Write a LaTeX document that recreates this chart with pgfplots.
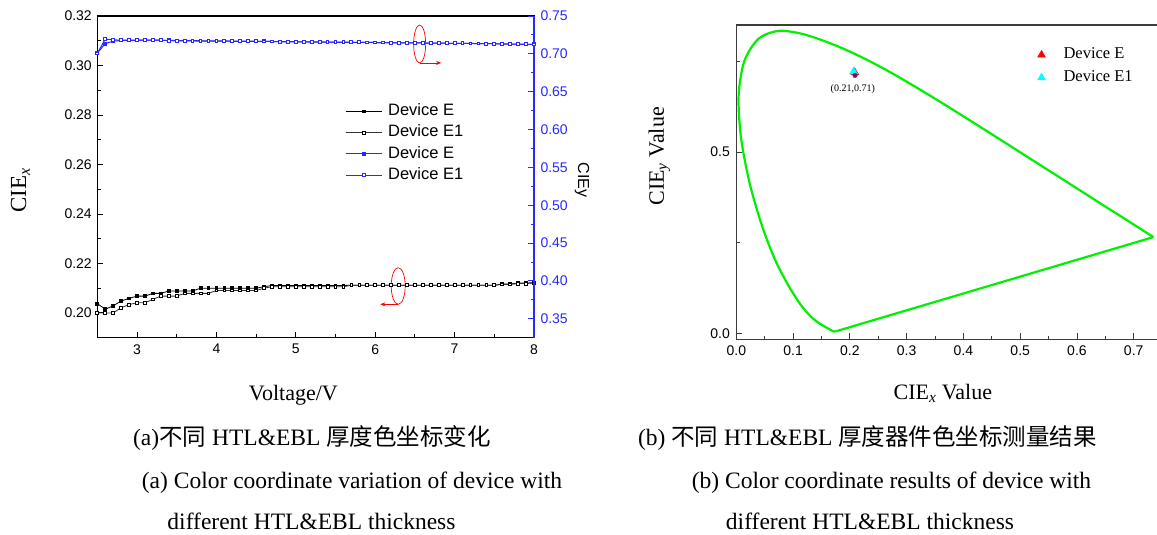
\documentclass[border=0pt]{standalone}
\usepackage{pgfplots}
\pgfplotsset{compat=1.18}
\usepackage{pgfplotstable}
\usepackage{fontspec}
\setmainfont{Liberation Serif}
\setsansfont{Liberation Sans}
\newfontfamily\cjk{Noto Sans CJK SC}
\usetikzlibrary{arrows.meta}
\definecolor{myblue}{RGB}{40,40,255}
\definecolor{axgray}{RGB}{60,60,60}
\definecolor{locusgreen}{RGB}{0,240,0}
\definecolor{mycyan}{RGB}{0,255,255}
\definecolor{myred}{RGB}{255,0,0}
\definecolor{mypurple}{RGB}{120,20,110}

\pgfplotstableread{
V xE xE1 yE yE1
2.5 0.2038 0.2000 0.7010 0.7005
2.6 0.2015 0.2000 0.7135 0.7195
2.7 0.2029 0.2000 0.7168 0.7185
2.8 0.2048 0.2021 0.7175 0.7180
2.9 0.2059 0.2034 0.7178 0.7180
3.0 0.2068 0.2041 0.7180 0.7181
3.1 0.2068 0.2041 0.7180 0.7181
3.2 0.2079 0.2055 0.7180 0.7181
3.3 0.2079 0.2068 0.7180 0.7180
3.4 0.2089 0.2068 0.7178 0.7174
3.5 0.2089 0.2068 0.7176 0.7172
3.6 0.2089 0.2079 0.7175 0.7170
3.7 0.2089 0.2079 0.7174 0.7170
3.8 0.2100 0.2079 0.7173 0.7169
3.9 0.2100 0.2079 0.7172 0.7168
4.0 0.2100 0.2091 0.7171 0.7168
4.1 0.2100 0.2091 0.7170 0.7167
4.2 0.2100 0.2091 0.7169 0.7166
4.3 0.2100 0.2091 0.7168 0.7166
4.4 0.2100 0.2091 0.7167 0.7165
4.5 0.2100 0.2091 0.7166 0.7165
4.6 0.2106 0.2100 0.7165 0.7164
4.7 0.2111 0.2106 0.7163 0.7163
4.8 0.2111 0.2106 0.7162 0.7160
4.9 0.2111 0.2106 0.7161 0.7159
5.0 0.2111 0.2106 0.7160 0.7158
5.1 0.2111 0.2106 0.7159 0.7157
5.2 0.2111 0.2106 0.7158 0.7156
5.3 0.2111 0.2106 0.7157 0.7155
5.4 0.2111 0.2106 0.7156 0.7154
5.5 0.2111 0.2106 0.7155 0.7153
5.6 0.2111 0.2106 0.7154 0.7153
5.7 0.2112 0.2112 0.7153 0.7153
5.8 0.2112 0.2112 0.7152 0.7152
5.9 0.2112 0.2112 0.7151 0.7151
6.0 0.2112 0.2112 0.7150 0.7150
6.1 0.2112 0.2112 0.7149 0.7149
6.2 0.2112 0.2112 0.7147 0.7145
6.3 0.2112 0.2112 0.7146 0.7144
6.4 0.2112 0.2112 0.7145 0.7143
6.5 0.2112 0.2112 0.7144 0.7144
6.6 0.2112 0.2112 0.7143 0.7143
6.7 0.2112 0.2112 0.7142 0.7142
6.8 0.2112 0.2112 0.7141 0.7141
6.9 0.2112 0.2112 0.7140 0.7140
7.0 0.2112 0.2112 0.7139 0.7139
7.1 0.2112 0.2112 0.7138 0.7138
7.2 0.2112 0.2112 0.7137 0.7137
7.3 0.2112 0.2112 0.7136 0.7136
7.4 0.2112 0.2112 0.7135 0.7135
7.5 0.2112 0.2112 0.7134 0.7134
7.6 0.2117 0.2115 0.7132 0.7130
7.7 0.2117 0.2115 0.7130 0.7128
7.8 0.2121 0.2119 0.7128 0.7126
7.9 0.2121 0.2119 0.7126 0.7125
8.0 0.2122 0.2121 0.7125 0.7124
}\cietable

\pgfplotstableread{
cx cy
0.1741 0.0050
0.1733 0.0048
0.1714 0.0051
0.1689 0.0069
0.1644 0.0109
0.1566 0.0177
0.1510 0.0227
0.1440 0.0297
0.1355 0.0399
0.1241 0.0578
0.1096 0.0868
0.0913 0.1327
0.0687 0.2007
0.0454 0.2950
0.0235 0.4127
0.0082 0.5384
0.0039 0.6548
0.0139 0.7502
0.0389 0.8120
0.0743 0.8338
0.1142 0.8262
0.1547 0.8059
0.1929 0.7816
0.2296 0.7543
0.2658 0.7243
0.3016 0.6923
0.3373 0.6589
0.3731 0.6245
0.4087 0.5896
0.4441 0.5547
0.4788 0.5202
0.5125 0.4866
0.5448 0.4544
0.5752 0.4242
0.6029 0.3965
0.6270 0.3725
0.6482 0.3510
0.6658 0.3340
0.6801 0.3197
0.6915 0.3083
0.7006 0.2993
0.7079 0.2920
0.7140 0.2859
0.7190 0.2809
0.7260 0.2740
0.7300 0.2700
0.7334 0.2666
0.7347 0.2653
}\locus

\pgfplotstableread{
cx cy
0.7347 0.2653
0.1741 0.0050
}\purpleline

\begin{document}
\begin{tikzpicture}
\useasboundingbox (0,0) rectangle (1157pt,535pt);
\clip (0,0) rectangle (1157pt,535pt);

% ---------- left chart, CIEx axis ----------
\begin{axis}[
  at={(97.3pt,197.3pt)}, anchor=south west, scale only axis,
  width=436.7pt, height=321.7pt,
  xmin=2.5, xmax=8, ymin=0.19, ymax=0.32,
  xtick={3,4,5,6,7,8}, minor x tick num=1,
  ytick={0.20,0.22,0.24,0.26,0.28,0.30,0.32}, minor y tick num=1,
  xtick pos=bottom, ytick pos=left, tick align=inside,
  major tick length=6pt, minor tick length=3.5pt,
  axis line style={line width=1.1pt, black},
  every tick/.style={line width=0.9pt, black},
  /pgf/number format/assume math mode=true,
  tick label style={font=\sffamily\fontsize{14}{14}\selectfont},
  yticklabel style={/pgf/number format/fixed, /pgf/number format/fixed zerofill, /pgf/number format/precision=2, xshift=-2pt},
  xticklabel style={yshift=-3pt},
  xlabel={Voltage/V},
  xlabel style={font=\fontsize{22}{22}\selectfont, at={(axis description cs:0.449,-0.178)}, anchor=center},
  ylabel={CIE\textsubscript{\itshape x}},
  ylabel style={font=\fontsize{23}{23}\selectfont, at={(axis description cs:-0.176,0.458)}, anchor=center, rotate=0},
]
\addplot[black, line width=0.8pt, mark=square*, mark size=1.4pt, mark options={solid, fill=black}] table[x=V, y=xE] {\cietable};
\addplot[black!80, line width=0.8pt, mark=square*, mark size=1.4pt, mark options={solid, fill=white, draw=black}] table[x=V, y=xE1] {\cietable};
\draw[red, line width=0.7pt] (axis cs:6.29,0.2109) ellipse [x radius=7pt, y radius=18.3pt];
\draw[red, line width=0.7pt, -{Stealth[length=5pt,width=4pt]}] (axis cs:6.29,0.2035) -- (axis cs:6.065,0.2035);
\end{axis}

% ---------- left chart, CIEy axis ----------
\begin{axis}[
  at={(97.3pt,197.3pt)}, anchor=south west, scale only axis,
  width=436.7pt, height=321.7pt,
  xmin=2.5, xmax=8, ymin=0.325, ymax=0.75,
  axis x line=none, axis y line*=right,
  ytick={0.35,0.40,0.45,0.50,0.55,0.60,0.65,0.70,0.75}, minor y tick num=1,
  tick align=inside,
  major tick length=6pt, minor tick length=3.5pt,
  axis line style={line width=1.1pt, myblue},
  every tick/.style={line width=0.9pt, myblue},
  /pgf/number format/assume math mode=true,
  tick label style={font=\sffamily\fontsize{14}{14}\selectfont, text=myblue},
  yticklabel style={/pgf/number format/fixed, /pgf/number format/fixed zerofill, /pgf/number format/precision=2, xshift=3pt},
  ylabel={CIEy},
  ylabel style={font=\sffamily\fontsize{16}{16}\selectfont, at={(axis description cs:1.11,0.49)}, anchor=center, rotate=180},
  legend style={draw=none, fill=none, at={(axis description cs:0.567,0.731)}, anchor=north west,
    font=\sffamily\fontsize{16.5}{16.5}\selectfont, row sep=3.7pt, inner sep=0pt,
    nodes={inner sep=1pt, text height=12pt, text depth=3.5pt},
    /tikz/column 1/.style={column sep=5pt}},
  legend cell align=left,
  legend image code/.code={\draw[mark repeat=2, mark phase=2, #1] plot coordinates {(0pt,0pt) (18pt,0pt) (36pt,0pt)};},
]
\addlegendimage{black, line width=0.8pt, mark=square*, mark size=1.4pt, mark options={solid, fill=black}}
\addlegendentry{Device E}
\addlegendimage{black!80, line width=0.8pt, mark=square*, mark size=1.4pt, mark options={solid, fill=white, draw=black}}
\addlegendentry{Device E1}
\addplot[myblue, line width=1pt, mark=square*, mark size=1.4pt, mark options={solid, fill=myblue}] table[x=V, y=yE] {\cietable};
\addlegendentry{Device E}
\addplot[myblue, line width=1pt, mark=square*, mark size=1.4pt, mark options={solid, fill=white, draw=myblue}] table[x=V, y=yE1] {\cietable};
\addlegendentry{Device E1}
\draw[red, line width=0.7pt] (axis cs:6.56,0.713) ellipse [x radius=6pt, y radius=19pt];
\draw[red, line width=0.7pt, -{Stealth[length=5pt,width=4pt]}] (axis cs:6.56,0.688) -- (axis cs:6.83,0.688);
\end{axis}

% ---------- right chart ----------
\begin{axis}[
  at={(736.4pt,195.7pt)}, anchor=south west, scale only axis,
  width=425.7pt, height=314.3pt,
  xmin=0, xmax=0.75, ymin=-0.0165, ymax=0.85,
  xtick={0,0.1,0.2,0.3,0.4,0.5,0.6,0.7}, minor x tick num=1,
  ytick={0,0.5}, minor ytick={0.25,0.75},
  xtick pos=bottom, ytick pos=left, tick align=inside,
  major tick length=6pt, minor tick length=3.5pt,
  axis line style={line width=1.1pt, axgray},
  every tick/.style={line width=0.9pt, axgray},
  /pgf/number format/assume math mode=true,
  tick label style={font=\sffamily\fontsize{14}{14}\selectfont},
  xticklabel style={/pgf/number format/fixed, /pgf/number format/fixed zerofill, /pgf/number format/precision=1, yshift=-3pt},
  yticklabel style={/pgf/number format/fixed, /pgf/number format/fixed zerofill, /pgf/number format/precision=1, xshift=-3pt},
  xlabel={CIE\textsubscript{\itshape x} Value},
  xlabel style={font=\fontsize{22}{22}\selectfont, at={(axis description cs:0.485,-0.171)}, anchor=center},
  ylabel={CIE\textsubscript{\itshape y} Value},
  ylabel style={font=\fontsize{22}{22}\selectfont, at={(axis description cs:-0.181,0.582)}, anchor=center},
  legend style={draw=none, fill=none, at={(axis description cs:0.707,0.934)}, anchor=north west,
    font=\fontsize{16.5}{16.5}\selectfont, row sep=4.7pt, inner sep=0pt,
    nodes={inner sep=1pt, text height=12pt, text depth=4pt},
    /tikz/column 1/.style={column sep=17pt}},
  legend cell align=left,
  legend image code/.code={\draw[#1] plot coordinates {(7pt,0pt)};},
]
\addplot[color=locusgreen, line width=2.2pt, line join=round, smooth, tension=0.5, forget plot] table[x=cx, y=cy] {\locus};
\addplot[color=locusgreen, line width=2.2pt, line join=round, forget plot] table[x=cx, y=cy] {\purpleline};
\addplot[only marks, mark=triangle*, mark size=4.6pt, color=myred, mark options={fill=myred, draw=myred}] coordinates {(0.2085,0.7195)};
\addlegendentry{Device E}
\addplot[only marks, mark=triangle*, mark size=4.6pt, color=mycyan, mark options={fill=mycyan, draw=mycyan}] coordinates {(0.2065,0.7215)};
\addlegendentry{Device E1}
\addplot[only marks, mark=*, mark size=2.3pt, color=mypurple, mark options={fill=mypurple}, forget plot] coordinates {(0.209,0.711)};
\node[font=\fontsize{10}{10}\selectfont] at (axis cs:0.205,0.672) {(0.21,0.71)};
\end{axis}

% ---------- captions ----------
\node[anchor=base, font=\fontsize{23.5}{23.5}\selectfont] at (312pt,{535pt-446pt}) {(a){\cjk 不同} HTL\&EBL {\cjk 厚度色坐标变化}};
\node[anchor=base, font=\fontsize{23.5}{23.5}\selectfont] at (867.5pt,{535pt-446pt}) {(b) {\cjk 不同} HTL\&EBL {\cjk 厚度器件色坐标测量结果}};
\node[anchor=base, font=\fontsize{23.5}{23.5}\selectfont] at (352pt,{535pt-489pt}) {(a) Color coordinate variation of device with};
\node[anchor=base, font=\fontsize{23.5}{23.5}\selectfont] at (891.5pt,{535pt-489pt}) {(b) Color coordinate results of device with};
\node[anchor=base, font=\fontsize{23.5}{23.5}\selectfont] at (311.5pt,{535pt-530pt}) {different HTL\&EBL thickness};
\node[anchor=base, font=\fontsize{23.5}{23.5}\selectfont] at (870pt,{535pt-530pt}) {different HTL\&EBL thickness};
\end{tikzpicture}
\end{document}
